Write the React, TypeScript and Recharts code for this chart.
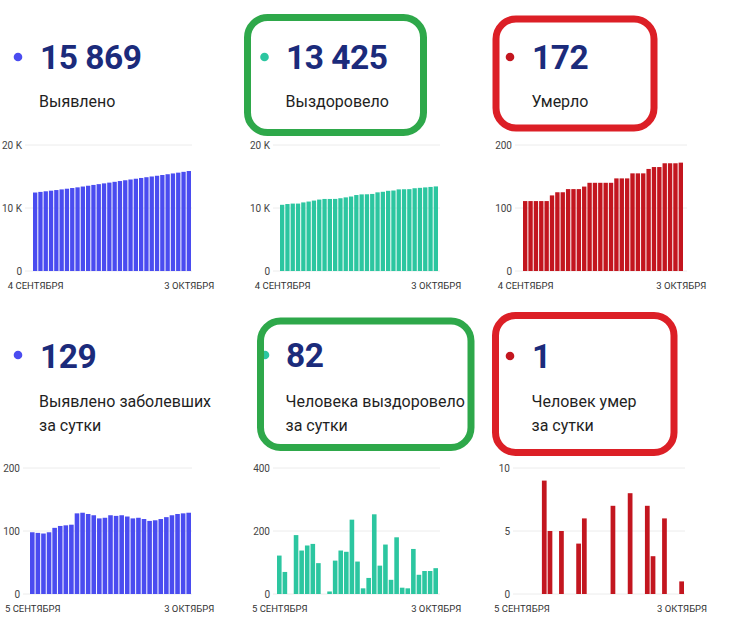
import React from "react";
import { BarChart, Bar, XAxis, YAxis, CartesianGrid } from "recharts";

const dates = [
  "4 СЕНТЯБРЯ", "5 СЕНТЯБРЯ", "6 СЕНТЯБРЯ", "7 СЕНТЯБРЯ", "8 СЕНТЯБРЯ", "9 СЕНТЯБРЯ",
  "10 СЕНТЯБРЯ", "11 СЕНТЯБРЯ", "12 СЕНТЯБРЯ", "13 СЕНТЯБРЯ", "14 СЕНТЯБРЯ", "15 СЕНТЯБРЯ",
  "16 СЕНТЯБРЯ", "17 СЕНТЯБРЯ", "18 СЕНТЯБРЯ", "19 СЕНТЯБРЯ", "20 СЕНТЯБРЯ", "21 СЕНТЯБРЯ",
  "22 СЕНТЯБРЯ", "23 СЕНТЯБРЯ", "24 СЕНТЯБРЯ", "25 СЕНТЯБРЯ", "26 СЕНТЯБРЯ", "27 СЕНТЯБРЯ",
  "28 СЕНТЯБРЯ", "29 СЕНТЯБРЯ", "30 СЕНТЯБРЯ", "1 ОКТЯБРЯ", "2 ОКТЯБРЯ", "3 ОКТЯБРЯ",
];
const dailyDates = dates.slice(1);

const totalCases = [
  12458, 12556, 12653, 12749, 12847, 12952, 13060, 13169, 13279, 13407, 13536, 13663, 13788, 13908, 14029,
  14154, 14278, 14403, 14526, 14646, 14767, 14886, 15002, 15119, 15238, 15360, 15485, 15612, 15740, 15869,
];
const totalRecovered = [
  10508, 10630, 10700, 10700, 10887, 11025, 11179, 11338, 11436, 11436, 11444, 11550, 11688, 11822, 12058,
  12161, 12179, 12230, 12483, 12573, 12730, 12775, 12955, 12975, 12993, 13136, 13197, 13270, 13343, 13425,
];
const totalDeaths = [
  111, 111, 111, 111, 111, 120, 125, 125, 130, 130, 130, 134, 140, 140, 140,
  140, 140, 147, 147, 147, 155, 155, 155, 162, 165, 165, 171, 171, 171, 172,
];
const dailyCases = [
  98, 97, 96, 98, 105, 108, 109, 110, 128, 129, 127, 125, 120, 121, 125,
  124, 125, 123, 120, 121, 119, 116, 117, 119, 122, 125, 127, 128, 129,
];
const dailyRecovered = [
  122, 70, 0, 187, 138, 154, 159, 98, 0, 8, 106, 138, 134, 236, 103,
  18, 51, 253, 90, 157, 45, 180, 20, 18, 143, 61, 73, 73, 82,
];
const dailyDeaths = [
  0, 0, 0, 0, 9, 5, 0, 5, 0, 0, 4, 6, 0, 0, 0,
  0, 7, 0, 0, 8, 0, 0, 7, 3, 0, 6, 0, 0, 1,
];

const BLUE = "#4a4cf0";
const TEAL = "#2cc6a0";
const RED = "#c3161f";
const NAVY = "#1b2b7b";
const GREEN_BOX = "#2ea84a";
const RED_BOX = "#dc1f26";

const kFmt = (v: number) => (v === 0 ? "0" : `${v / 1000} K`);
const plainFmt = (v: number) => `${v}`;

type PanelProps = {
  labels: string[];
  values: number[];
  color: string;
  left: number;
  top: number;
  plotLeft: number;
  plotWidth: number;
  padL: number;
  padR: number;
  domainMax: number;
  ticks: number[];
  fmt: (v: number) => string;
};

function Panel(p: PanelProps) {
  const data = p.labels.map((d, i) => ({ d, v: p.values[i] }));
  const marginRight = 40;
  const yWidth = p.plotLeft - p.left;
  const width = yWidth + p.plotWidth + marginRight;
  const band = (p.plotWidth - p.padL - p.padR) / p.labels.length;
  const shape = (s: any) =>
    s.height > 0 ? (
      <rect x={s.x} y={s.y} width={Math.max(band - 1, 0.5)} height={s.height} fill={p.color} />
    ) : (
      <g />
    );
  return (
    <div style={{ position: "absolute", left: p.left, top: p.top }}>
      <BarChart
        width={width}
        height={166}
        data={data}
        margin={{ top: 10, right: marginRight, bottom: 0, left: 0 }}
        barCategoryGap={0}
      >
        <CartesianGrid vertical={false} stroke="#ececec" />
        <XAxis
          dataKey="d"
          ticks={[p.labels[0], p.labels[p.labels.length - 1]]}
          interval={0}
          axisLine={false}
          tickLine={false}
          tickSize={0}
          tickMargin={11}
          height={30}
          padding={{ left: p.padL, right: p.padR }}
          tick={{ fontSize: 9.5, fill: "#333", fontFamily: "Roboto" }}
        />
        <YAxis
          width={yWidth}
          domain={[0, p.domainMax]}
          ticks={p.ticks}
          tickFormatter={p.fmt}
          axisLine={false}
          tickLine={false}
          tickSize={0}
          tickMargin={3}
          tick={{ fontSize: 10, fill: "#444", fontFamily: "Roboto" }}
        />
        <Bar dataKey="v" fill={p.color} isAnimationActive={false} shape={shape} />
      </BarChart>
    </div>
  );
}

const numStyle = { fontFamily: "Roboto", fontWeight: 700, fontSize: 33.5, fill: NAVY, letterSpacing: -0.5 } as const;
const lblStyle = { fontFamily: "Roboto", fontSize: 16, fill: "#1f1f1f" } as const;

export default function App() {
  return (
    <div
      style={{
        position: "absolute",
        left: 0,
        top: 0,
        width: 735,
        height: 628,
        background: "#fff",
        overflow: "hidden",
        fontFamily: "Roboto",
      }}
    >
      <Panel labels={dates} values={totalCases} color={BLUE} left={-15} top={135} plotLeft={25} plotWidth={167}
        padL={8} padR={0} domainMax={20000} ticks={[0, 10000, 20000]} fmt={kFmt} />
      <Panel labels={dates} values={totalRecovered} color={TEAL} left={230} top={135} plotLeft={273} plotWidth={167}
        padL={7} padR={1} domainMax={20000} ticks={[0, 10000, 20000]} fmt={kFmt} />
      <Panel labels={dates} values={totalDeaths} color={RED} left={480} top={135} plotLeft={515} plotWidth={172}
        padL={8} padR={3} domainMax={200} ticks={[0, 100, 200]} fmt={plainFmt} />
      <Panel labels={dailyDates} values={dailyCases} color={BLUE} left={-15} top={458} plotLeft={23} plotWidth={169}
        padL={7} padR={0} domainMax={200} ticks={[0, 100, 200]} fmt={plainFmt} />
      <Panel labels={dailyDates} values={dailyRecovered} color={TEAL} left={230} top={458} plotLeft={273} plotWidth={167}
        padL={4} padR={1} domainMax={400} ticks={[0, 200, 400]} fmt={plainFmt} />
      <Panel labels={dailyDates} values={dailyDeaths} color={RED} left={480} top={458} plotLeft={513} plotWidth={172}
        padL={6} padR={0} domainMax={10} ticks={[0, 5, 10]} fmt={plainFmt} />

      <svg width={735} height={628} style={{ position: "absolute", left: 0, top: 0, pointerEvents: "none" }}>
        {/* top row */}
        <circle cx={18} cy={57} r={4.3} fill={BLUE} />
        <circle cx={264.5} cy={57} r={4.3} fill={TEAL} />
        <circle cx={510} cy={57} r={4.3} fill={RED} />
        <text x={40} y={69} style={numStyle}>15 869</text>
        <text x={286} y={69} style={numStyle}>13 425</text>
        <text x={532} y={69} style={numStyle}>172</text>
        <text x={39} y={106.5} style={lblStyle}>Выявлено</text>
        <text x={285.5} y={106.5} style={lblStyle}>Выздоровело</text>
        <text x={531.5} y={106.5} style={lblStyle}>Умерло</text>

        {/* bottom row */}
        <circle cx={18} cy={355} r={4.3} fill={BLUE} />
        <circle cx={265} cy={355} r={4.3} fill={TEAL} />
        <circle cx={510} cy={356} r={4.3} fill={RED} />
        <text x={40} y={368} style={numStyle}>129</text>
        <text x={286} y={367} style={numStyle}>82</text>
        <text x={532} y={368} style={numStyle}>1</text>
        <text x={39} y={407} style={lblStyle}>Выявлено заболевших</text>
        <text x={39} y={431} style={lblStyle}>за сутки</text>
        <text x={285.5} y={407} style={lblStyle}>Человека выздоровело</text>
        <text x={285.5} y={431} style={lblStyle}>за сутки</text>
        <text x={531.5} y={407} style={lblStyle}>Человек умер</text>
        <text x={531.5} y={431} style={lblStyle}>за сутки</text>

        {/* highlight boxes */}
        <rect x={247.5} y={17.5} width={176} height={115} rx={20} fill="none" stroke={GREEN_BOX} strokeWidth={7} />
        <rect x={496} y={19} width={158} height={109} rx={20} fill="none" stroke={RED_BOX} strokeWidth={7} />
        <rect x={260.5} y={321} width={210.5} height={126.5} rx={20} fill="none" stroke={GREEN_BOX} strokeWidth={7} />
        <rect x={495.5} y={315.5} width={178.5} height={137} rx={20} fill="none" stroke={RED_BOX} strokeWidth={7} />
      </svg>
    </div>
  );
}
